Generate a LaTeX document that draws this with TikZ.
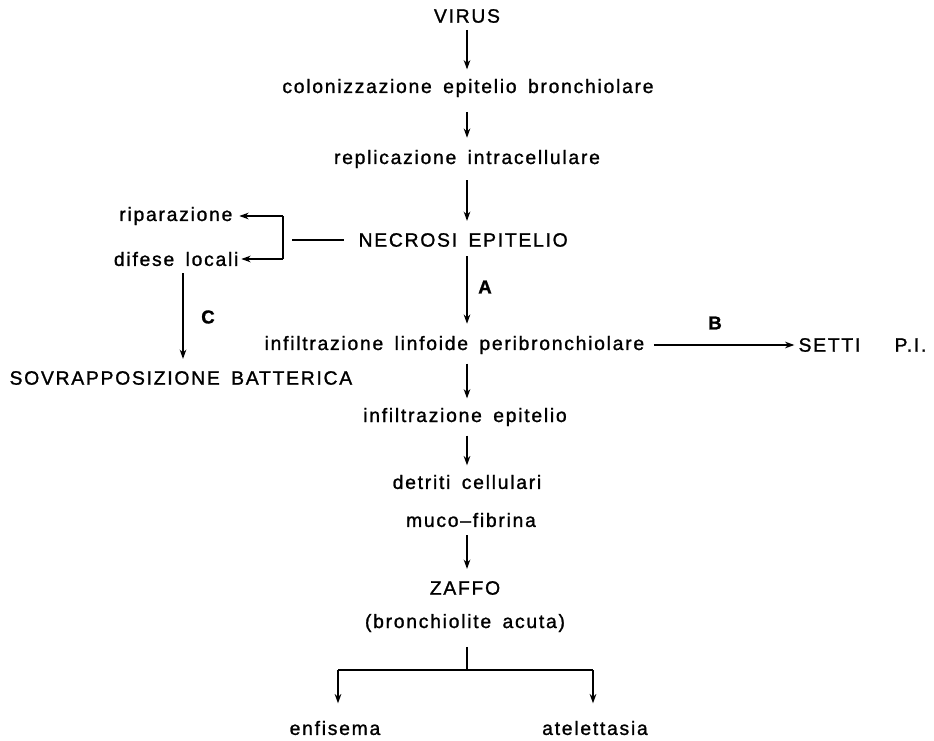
\documentclass[tikz,border=0pt]{standalone}
\usepackage{fontspec}
\setmainfont{Liberation Sans}[LetterSpace=9,WordSpace=1.6,FakeBold=1.2]
\usetikzlibrary{arrows.meta}

\tikzstyle{txt}=[inner sep=1pt,font=\fontsize{14.5}{17}\selectfont]
\tikzstyle{tag}=[inner sep=1pt,font=\bfseries\fontsize{14}{17}\selectfont]
\tikzstyle{flow}=[draw=black,line width=0.9pt,-{Stealth[length=7pt,width=5pt]}]
\tikzstyle{link}=[draw=black,line width=0.9pt]

\begin{document}
\begin{tikzpicture}[x=0.75pt,y=-0.75pt]

   \useasboundingbox (0,0) rectangle (934,741);
   \fill[white] (0,0) rectangle (934,741);

   % Main chain

   \node[txt] (virus) at (467,16) {VIRUS};
   \node[txt] (colon) at (468,88) {colonizzazione epitelio bronchiolare};
   \node[txt] (repl) at (467,159) {replicazione intracellulare};
   \node[txt,anchor=west] (necro) at (357,240) {NECROSI EPITELIO};
   \node[txt,anchor=west] (linf) at (263,345) {infiltrazione linfoide peribronchiolare};
   \node[txt] (infep) at (465,417) {infiltrazione epitelio};
   \node[txt] (detriti) at (467,482) {detriti cellulari};
   \node[txt] (muco) at (471,520) {muco–fibrina};
   \node[txt] (zaffo) at (465,588) {ZAFFO};
   \node[txt] (bronch) at (465,623) {(bronchiolite acuta)};

   \draw[flow,shorten <=4pt,shorten >=6pt] (virus.south) -- (virus.south |- colon.north);
   \draw[flow,shorten <=10pt,shorten >=8pt] (virus.south |- colon.south) -- (virus.south |- repl.north);
   \draw[flow,shorten <=8pt,shorten >=8pt] (virus.south |- repl.south) -- (virus.south |- necro.north);
   \draw[flow,shorten <=6pt,shorten >=8pt] (virus.south |- necro.south) -- (virus.south |- linf.north);
   \draw[flow,shorten <=6pt,shorten >=6pt] (virus.south |- linf.south) -- (virus.south |- infep.north);
   \draw[flow,shorten <=6pt,shorten >=6pt] (virus.south |- infep.south) -- (virus.south |- detriti.north);
   \draw[flow,shorten <=5pt,shorten >=8pt] (virus.south |- muco.south) -- (virus.south |- zaffo.north);

   \node[tag] (tA) at (485,287) {A};

   % Left branch

   \node[txt,anchor=east] (ripar) at (234,216) {riparazione};
   \node[txt,anchor=east] (difese) at (240,259) {difese locali};
   \node[txt,anchor=west] (sovra) at (8,378) {SOVRAPPOSIZIONE BATTERICA};
   \coordinate (brtop) at (283,216);
   \coordinate (brbot) at (283,259);

   \draw[link] (brtop) -- (brbot);
   \draw[link,shorten <=10pt,shorten >=7pt] (necro.west) -- (necro.west -| brtop);
   \draw[flow,shorten >=4pt] (brtop) -- (ripar.east);
   \draw[flow,shorten >=1pt] (brbot) -- (difese.east);
   \draw[flow,shorten <=4pt,shorten >=8pt] (183,0 |- difese.south) -- (183,0 |- sovra.north);

   \node[tag] (tC) at (208,317) {C};

   % Right branch

   \node[txt,anchor=west] (setti) at (797,345) {SETTI};
   \node[txt,anchor=west] (pi) at (893,345) {P.I.};
   \draw[flow,shorten <=6pt,shorten >=2pt] (linf.east) -- (setti.west);

   \node[tag] (tB) at (715,323) {B};

   % Fork

   \node[txt] (enfis) at (335,728) {enfisema};
   \node[txt] (atel) at (595,728) {atelettasia};
   \coordinate (fork) at (467,670);

   \draw[link,shorten <=10pt] (virus.south |- bronch.south) -- (fork);
   \draw[link] (338,0 |- fork) -- (593,0 |- fork);
   \draw[flow,shorten >=12pt] (338,0 |- fork) -- (338,0 |- enfis.north);
   \draw[flow,shorten >=12pt] (593,0 |- fork) -- (593,0 |- atel.north);

\end{tikzpicture}
\end{document}
